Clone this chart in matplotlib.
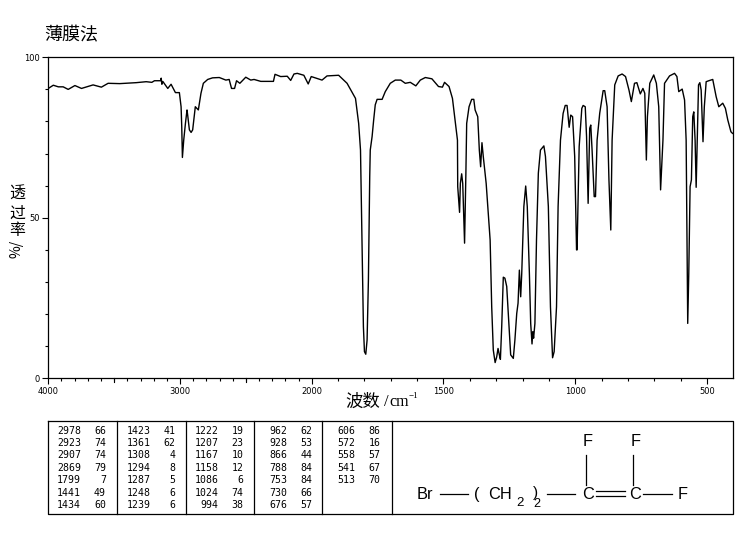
import numpy as np
from matplotlib import pyplot as plt
from matplotlib.ticker import FixedLocator, FixedFormatter

wavenumber = [
    4000, 3962, 3924, 3887, 3849, 3798, 3748, 3660, 3597, 3546, 3458, 3332, 3257, 3214, 3194, 3148,
    3143, 3138, 3131, 3093, 3068, 3035, 3005, 2992, 2987, 2982, 2972, 2959, 2947, 2942, 2929, 2916,
    2904, 2884, 2861, 2841, 2823, 2790, 2753, 2702, 2652, 2627, 2609, 2586, 2571, 2546, 2501, 2463,
    2438, 2387, 2291, 2279, 2236, 2186, 2160, 2135, 2110, 2060, 2027, 2004, 1961, 1942, 1898, 1879,
    1866, 1834, 1822, 1815, 1809, 1804, 1800, 1795, 1790, 1785, 1780, 1778, 1771, 1765, 1759, 1752,
    1733, 1721, 1702, 1683, 1662, 1645, 1626, 1605, 1588, 1569, 1544, 1519, 1504, 1496, 1479, 1466,
    1456, 1447, 1446, 1439, 1436, 1431, 1427, 1420, 1415, 1412, 1403, 1393, 1385, 1380, 1370, 1364,
    1359, 1354, 1349, 1338, 1330, 1323, 1317, 1311, 1304, 1298, 1293, 1288, 1284, 1279, 1273, 1267,
    1260, 1251, 1245, 1235, 1229, 1222, 1217, 1212, 1207, 1203, 1195, 1188, 1182, 1174, 1169, 1164,
    1161, 1158, 1153, 1147, 1140, 1132, 1119, 1113, 1102, 1094, 1086, 1080, 1071, 1065, 1056, 1046,
    1038, 1031, 1023, 1017, 1010, 1002, 995, 993, 985, 975, 970, 962, 957, 951, 945, 941,
    936, 928, 923, 917, 907, 894, 888, 879, 872, 865, 860, 850, 837, 822, 809, 796,
    787, 775, 766, 753, 743, 736, 730, 726, 717, 702, 692, 683, 676, 667, 661, 642,
    623, 614, 607, 594, 585, 579, 573, 569, 564, 559, 554, 550, 545, 541, 537, 532,
    527, 522, 515, 510, 503, 493, 478, 465, 455, 440, 430, 421, 409, 403,
]
transmittance = [
    90.3, 91.3, 90.8, 90.8, 90.0, 91.2, 90.3, 91.4, 90.7, 91.9, 91.8, 92.1, 92.4, 92.2, 92.7, 92.7,
    93.5, 91.6, 92.5, 90.3, 91.6, 89.0, 89.0, 84.6, 78.4, 68.8, 74.2, 79.4, 83.6, 82.0, 77.4, 76.6,
    77.4, 84.6, 83.6, 88.8, 91.9, 93.1, 93.6, 93.7, 92.9, 93.1, 90.3, 90.3, 92.7, 91.9, 93.8, 92.9,
    93.1, 92.5, 92.5, 94.7, 94.0, 94.1, 92.8, 94.8, 95.0, 94.4, 91.7, 94.0, 92.9, 94.2, 94.4, 92.9,
    91.9, 87.2, 79.4, 71.1, 40.0, 16.1, 8.3, 7.5, 11.9, 30.6, 62.8, 71.1, 75.3, 80.5, 85.2, 86.9,
    86.9, 89.3, 91.9, 92.9, 92.9, 91.9, 92.2, 91.1, 92.9, 93.7, 93.3, 90.9, 90.7, 92.2, 90.9, 87.2,
    80.5, 74.2, 59.7, 51.7, 60.7, 63.7, 60.7, 42.1, 63.9, 79.4, 84.6, 86.9, 86.9, 83.6, 81.5, 71.1,
    65.9, 73.4, 69.1, 60.7, 51.4, 43.1, 22.3, 8.8, 4.9, 6.7, 9.3, 7.3, 5.9, 16.1, 31.5, 31.2,
    28.6, 16.1, 7.3, 6.2, 11.9, 20.2, 23.4, 33.7, 25.4, 32.7, 53.5, 59.9, 53.5, 32.7, 17.1, 10.7,
    14.5, 12.5, 17.1, 43.1, 63.9, 71.1, 72.4, 69.1, 53.5, 22.3, 6.4, 8.3, 22.3, 53.5, 74.2, 82.5,
    85.0, 85.0, 78.2, 82.0, 81.5, 69.1, 40.0, 40.0, 72.2, 84.1, 85.0, 84.6, 75.3, 54.5, 77.9, 78.9,
    71.1, 56.6, 56.6, 74.2, 82.6, 89.6, 89.6, 84.6, 61.8, 46.2, 74.2, 91.4, 94.2, 94.8, 94.0, 89.8,
    86.2, 91.9, 92.1, 88.6, 90.3, 88.8, 68.0, 81.5, 91.9, 94.5, 91.9, 84.6, 58.7, 74.2, 91.9, 94.2,
    95.0, 94.0, 89.3, 90.1, 86.7, 74.2, 17.1, 32.7, 59.7, 61.8, 81.5, 83.0, 74.2, 59.5, 74.2, 91.4,
    92.1, 89.8, 73.7, 84.6, 92.4, 92.7, 93.1, 87.7, 84.6, 85.7, 84.1, 80.5, 76.8, 76.3,
]

x_major = [4000, 3000, 2000, 1500, 1000, 500]
x_major_labels = ['4000', '3000', '2000', '1500', '1000', '500']
x_mid = [3500, 2500]
y_major = [0, 50, 100]
y_major_labels = ['0', '50', '100']

peak_wave = [
    ['2978', '2923', '2907', '2869', '1799', '1441', '1434'],
    ['1423', '1361', '1308', '1294', '1287', '1248', '1239'],
    ['1222', '1207', '1167', '1158', '1086', '1024', '994'],
    ['962', '928', '866', '788', '753', '730', '676'],
    ['606', '572', '558', '541', '513'],
]
peak_trans = [
    ['66', '74', '74', '79', '7', '49', '60'],
    ['41', '62', '4', '8', '5', '6', '6'],
    ['19', '23', '10', '12', '6', '74', '38'],
    ['62', '53', '44', '84', '84', '66', '57'],
    ['86', '16', '57', '67', '70'],
]

CJK = ['Noto Sans CJK SC', 'DejaVu Sans']


# the axis is twice as wide per wavenumber below 2000
def forward(x):
    x = np.asarray(x, dtype=float)
    return np.where(x > 2000, 2000 + (x - 2000) / 2, x)


def inverse(x):
    x = np.asarray(x, dtype=float)
    return np.where(x > 2000, 2000 + (x - 2000) * 2, x)


W, H = 741, 539
fig = plt.figure(figsize=[W / 100, H / 100], dpi=100)

ax = fig.add_axes([48.3 / W, 1 - 378.3 / H, 685 / W, 321 / H])
ax.set_xscale('function', functions=(forward, inverse))
ax.plot(wavenumber, transmittance, color='black', lw=1.0)
ax.set_xlim(4000, 400)
ax.set_ylim(0, 100)

minor = list(range(3900, 400, -100))
ax.xaxis.set_major_locator(FixedLocator(x_major))
ax.xaxis.set_major_formatter(FixedFormatter(x_major_labels))
ax.xaxis.set_minor_locator(FixedLocator([m for m in minor if m not in x_major]))
ax.yaxis.set_major_locator(FixedLocator(y_major))
ax.yaxis.set_major_formatter(FixedFormatter(y_major_labels))
ax.yaxis.set_minor_locator(FixedLocator(list(range(10, 100, 10))))
ax.tick_params(axis='both', which='major', length=4, width=0.8, labelsize=6, pad=2)
ax.tick_params(axis='both', which='minor', length=2, width=0.8)
for m in x_mid:
    ax.plot([m, m], [0, -1.3], color='black', lw=0.8, clip_on=False)
for s in ax.spines.values():
    s.set_linewidth(0.9)

# overlay in pixels for the titles, peak table and structure
ov = fig.add_axes([0, 0, 1, 1])
ov.set_xlim(0, W)
ov.set_ylim(H, 0)
ov.axis('off')

ov.text(71.5, 35.5, '薄膜法', family=CJK, fontsize=13, ha='center', va='center')
ov.text(17, 194.5, '透', family=CJK, fontsize=11.5, ha='center', va='center')
ov.text(17, 213, '过', family=CJK, fontsize=11.5, ha='center', va='center')
ov.text(17, 230.5, '率', family=CJK, fontsize=11.5, ha='center', va='center')
ov.text(17, 248.5, '%/', family=CJK, fontsize=10, rotation=90, ha='center', va='center')

ov.text(363, 401.5, '波数', family=CJK, fontsize=12.5, ha='center', va='center')
ov.text(386.5, 402, '/', family='Liberation Serif', fontsize=12, ha='center', va='center')
ov.text(399.5, 402, 'cm', family='Liberation Serif', fontsize=11.5, ha='center', va='center')
ov.text(413.5, 396, '−1', family='Liberation Serif', fontsize=6.5, ha='center', va='center')

# peak table
ov.plot([48, 733.3, 733.3, 48, 48], [421, 421, 513.5, 513.5, 421], color='black', lw=0.9)
for x in [117.3, 185.7, 254.3, 322.3, 391.7]:
    ov.plot([x, x], [421, 513.5], color='black', lw=0.9)
col_left = [48, 117.3, 185.7, 254.3, 322.3]
for col, left in enumerate(col_left):
    for row, (w, t) in enumerate(zip(peak_wave[col], peak_trans[col])):
        y = 430.7 + row * 12.4
        ov.text(left + 33, y, w, family='DejaVu Sans Mono', fontsize=7.1, ha='right', va='center')
        ov.text(left + 58, y, t, family='DejaVu Sans Mono', fontsize=7.1, ha='right', va='center')

# structure
atom = dict(family='Liberation Sans', fontsize=11.8, ha='center', va='center')
ov.text(588, 441.5, 'F', **atom)
ov.text(636, 441.5, 'F', **atom)
ov.text(424.5, 494.5, 'Br', **atom)
ov.text(477, 494.5, '(', **atom)
ov.text(500, 494.5, 'CH', **atom)
ov.text(520, 503, '2', family='Liberation Sans', fontsize=9.5, ha='center', va='center')
ov.text(535.5, 493, ')', family='Liberation Sans', fontsize=11, ha='center', va='center')
ov.text(537, 504, '2', family='Liberation Sans', fontsize=9, ha='center', va='center')
ov.text(588, 494.5, 'C', **atom)
ov.text(635, 494.5, 'C', **atom)
ov.text(683, 494.5, 'F', **atom)
bonds = [
    ([440, 468], [494, 494]), ([547, 575], [494, 494]), ([643, 672], [494, 494]),
    ([596, 625], [491, 491]), ([596, 625], [496, 496]),
    ([585.7, 585.7], [455, 485]), ([633.3, 633.3], [455, 485]),
]
for bx, by in bonds:
    ov.plot(bx, by, color='black', lw=0.9)

fig.savefig('out.png', dpi=100)
